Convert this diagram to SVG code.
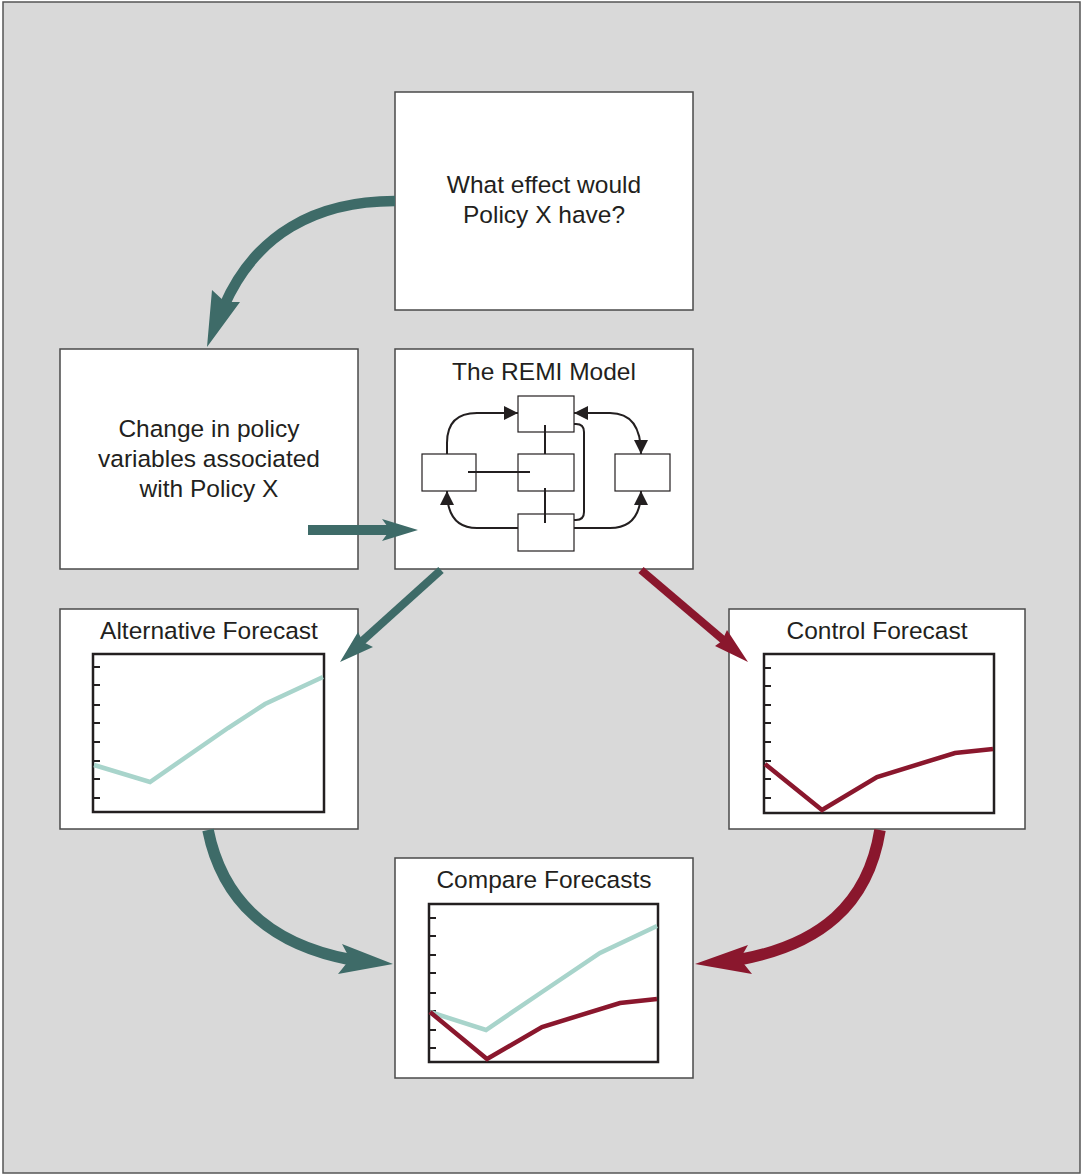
<svg xmlns="http://www.w3.org/2000/svg" width="1083" height="1175" viewBox="0 0 1083 1175">
<defs>
<style>
.box{fill:#fff;stroke:#4a4a4a;stroke-width:1.5}
.t{font-family:"Liberation Sans",Arial,sans-serif;font-size:24.5px;fill:#231f20;text-anchor:middle}
.chart{fill:#fff;stroke:#231f20;stroke-width:2.5}
.tick{stroke:#231f20;stroke-width:2}
.alt{fill:none;stroke:#a8d4cb;stroke-width:4.5;stroke-linejoin:miter}
.ctl{fill:none;stroke:#8a172d;stroke-width:4.5;stroke-linejoin:miter}
.sm{fill:#fff;stroke:#231f20;stroke-width:1.2}
.ln{fill:none;stroke:#231f20;stroke-width:2}
.teal{fill:none;stroke:#3e6b68}
.red{fill:none;stroke:#8a172d}
.tealf{fill:#3e6b68}
.redf{fill:#8a172d}
</style>
<marker id="ah" viewBox="0 0 10 10" refX="10" refY="5" markerWidth="7" markerHeight="7" orient="auto-start-reverse" markerUnits="strokeWidth">
<path d="M0,0 L10,5 L0,10 z" fill="#231f20"/>
</marker>
</defs>
<rect x="3" y="2" width="1077" height="1171" fill="#d9d9d9" stroke="#555" stroke-width="1.5"/>

<g id="question">
<rect class="box" x="395" y="92" width="298" height="218"/>
<text class="t" x="544" y="193">What effect would</text>
<text class="t" x="544" y="223">Policy X have?</text>
</g>

<g id="policy-change">
<rect class="box" x="60" y="349" width="298" height="220"/>
<text class="t" x="209" y="437">Change in policy</text>
<text class="t" x="209" y="467">variables associated</text>
<text class="t" x="209" y="497">with Policy X</text>
</g>

<g id="remi-model">
<rect class="box" x="395" y="349" width="298" height="220"/>
<text class="t" x="544" y="380">The REMI Model</text>
<rect class="sm" x="518" y="396" width="56" height="36"/>
<rect class="sm" x="518" y="454" width="56" height="37"/>
<rect class="sm" x="518" y="514" width="56" height="37"/>
<rect class="sm" x="422" y="454" width="54" height="37"/>
<rect class="sm" x="615" y="454" width="55" height="37"/>
<line class="ln" x1="468" y1="472" x2="530" y2="472"/>
<line class="ln" x1="545" y1="425" x2="545" y2="454"/>
<line class="ln" x1="545" y1="488" x2="545" y2="523"/>
<path class="ln" d="M574,424 L576,424 Q584,424 584,432 L584,512 Q584,520 576,520 L574,520"/>
<path class="ln" d="M447,454 L447,443 Q447,413 477,413 L518,413" marker-end="url(#ah)"/>
<path class="ln" d="M518,528 L477,528 Q447,528 447,491" marker-end="url(#ah)"/>
<path class="ln" d="M574,413 L610,413 Q641,413 641,454" marker-start="url(#ah)" marker-end="url(#ah)"/>
<path class="ln" d="M574,528 L610,528 Q641,528 641,491" marker-end="url(#ah)"/>
</g>

<g id="alternative-forecast">
<rect class="box" x="60" y="609" width="298" height="220"/>
<text class="t" x="209" y="639">Alternative Forecast</text>
<rect class="chart" x="93" y="654" width="231" height="158"/>
<path class="tick" d="M93,667h7M93,685h7M93,705h7M93,723h7M93,742h7M93,761h7M93,779h7M93,798h7"/>
<polyline class="alt" points="94,765 150,782 228,728 265,704 323,677"/>
</g>

<g id="control-forecast">
<rect class="box" x="729" y="609" width="296" height="220"/>
<text class="t" x="877" y="639">Control Forecast</text>
<rect class="chart" x="764" y="654" width="230" height="159"/>
<path class="tick" d="M764,668h7M764,686h7M764,705h7M764,723h7M764,742h7M764,761h7M764,779h7M764,798h7"/>
<polyline class="ctl" points="765,764 822,810 877,777 955,753 993,749"/>
</g>

<g id="compare-forecasts">
<rect class="box" x="395" y="858" width="298" height="220"/>
<text class="t" x="544" y="888">Compare Forecasts</text>
<rect class="chart" x="429" y="904" width="229" height="158"/>
<path class="tick" d="M429,918h7M429,936h7M429,955h7M429,973h7M429,993h7M429,1011h7M429,1030h7M429,1048h7"/>
<polyline class="alt" points="430,1012 486,1030 542,992 600,953 657,926"/>
<polyline class="ctl" points="430,1012 487,1059 542,1027 620,1003 657,999"/>
</g>

<g id="connectors">
<path class="teal" stroke-width="10.5" d="M395,201 C315,201 255,235 224,306"/>
<path class="tealf" d="M207,347 L212,290 L225,302 L240,302 z"/>
<path class="teal" stroke-width="10" d="M308,530 L392,530"/>
<path class="tealf" d="M418,530 L382,519 L390,530 L382,541 z"/>
<path class="teal" stroke-width="8" d="M441,570 L360,643"/>
<path class="tealf" d="M340,662 L358,632 L363,642 L373,647 z"/>
<path class="red" stroke-width="8" d="M641,570 L728,644"/>
<path class="redf" d="M748,662 L727,630 L722,641 L715,646 z"/>
<path class="teal" stroke-width="11.5" d="M208,830 C222,900 270,945 352,960"/>
<path class="tealf" d="M393,964 L342,944 L350,959 L338,974 z"/>
<path class="red" stroke-width="11.5" d="M880,830 C868,905 820,945 738,960"/>
<path class="redf" d="M695,964 L748,945 L740,959 L752,974 z"/>
</g>
</svg>
